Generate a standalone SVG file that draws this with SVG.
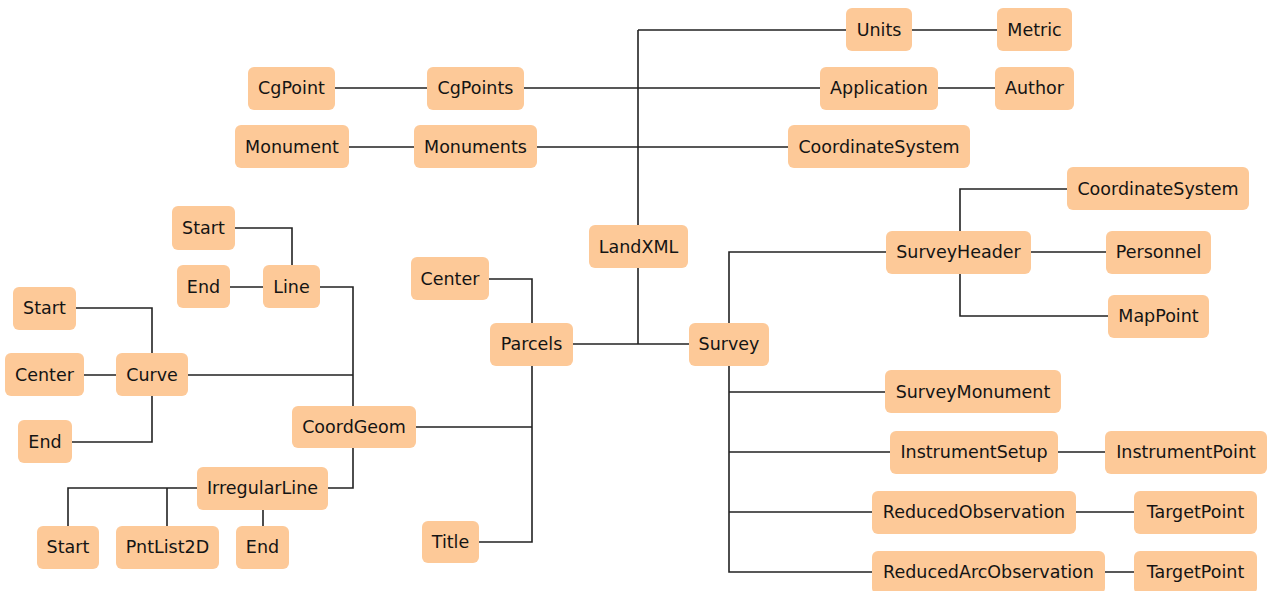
<svg xmlns="http://www.w3.org/2000/svg" width="1271" height="591" viewBox="0 0 1271 591">
<style>
.n rect{fill:#FDC998;}
.n text{font-family:"DejaVu Sans",sans-serif;font-size:17.5px;fill:#141414;text-anchor:middle;dominant-baseline:central;}
#edges path{fill:none;stroke:#222;stroke-width:1.6;}
</style>
<rect width="1271" height="591" fill="#fff"/>
<g id="edges">
<path d="M638 30V344M638 30H846M912 30H997"/>
<path d="M524 88H820M938 88H995M335 88H427"/>
<path d="M537 147H788M349 147H414"/>
<path d="M573 344H689"/>
<path d="M729 323V252H886M729 366V572H872M729 392H885M729 452H890M729 512H872"/>
<path d="M960 231V189H1067M1031 252H1106M960 274V316H1108"/>
<path d="M1058 452H1105M1076 512H1134M1105 572H1134"/>
<path d="M489 279H532V323M532 366V542H479M416 427H532"/>
<path d="M320 287H353V406M188 375H353M353 448V488H328"/>
<path d="M230 287H263M235 228H292V265"/>
<path d="M76 308H152V353M84 375H116M152 396V442H72"/>
<path d="M197 488H68V526M167 488V526M263 510V526"/>
</g>
<g id="n-units" class="n"><rect x="846" y="8" width="66" height="43" rx="6"/><text x="879" y="30">Units</text></g>
<g id="n-metric" class="n"><rect x="997" y="8" width="75" height="43" rx="6"/><text x="1034.5" y="30">Metric</text></g>
<g id="n-cgpoint" class="n"><rect x="248" y="67" width="87" height="43" rx="6"/><text x="291.5" y="88">CgPoint</text></g>
<g id="n-cgpoints" class="n"><rect x="427" y="67" width="97" height="43" rx="6"/><text x="475.5" y="88">CgPoints</text></g>
<g id="n-application" class="n"><rect x="820" y="67" width="118" height="43" rx="6"/><text x="879" y="88">Application</text></g>
<g id="n-author" class="n"><rect x="995" y="67" width="79" height="43" rx="6"/><text x="1034.5" y="88">Author</text></g>
<g id="n-monument" class="n"><rect x="235" y="125" width="114" height="43" rx="6"/><text x="292" y="147">Monument</text></g>
<g id="n-monuments" class="n"><rect x="414" y="125" width="123" height="43" rx="6"/><text x="475.5" y="147">Monuments</text></g>
<g id="n-coordsys1" class="n"><rect x="788" y="125" width="182" height="43" rx="6"/><text x="879" y="147">CoordinateSystem</text></g>
<g id="n-coordsys2" class="n"><rect x="1067" y="167" width="182" height="43" rx="6"/><text x="1158" y="189">CoordinateSystem</text></g>
<g id="n-start-line" class="n"><rect x="172" y="206" width="63" height="44" rx="6"/><text x="203.5" y="228">Start</text></g>
<g id="n-landxml" class="n"><rect x="589" y="225" width="99" height="43" rx="6"/><text x="638.5" y="247">LandXML</text></g>
<g id="n-surveyheader" class="n"><rect x="886" y="231" width="145" height="43" rx="6"/><text x="958.5" y="252">SurveyHeader</text></g>
<g id="n-personnel" class="n"><rect x="1106" y="231" width="105" height="43" rx="6"/><text x="1158.5" y="252">Personnel</text></g>
<g id="n-center-parcels" class="n"><rect x="411" y="257" width="78" height="43" rx="6"/><text x="450" y="279">Center</text></g>
<g id="n-end-line" class="n"><rect x="177" y="265" width="53" height="43" rx="6"/><text x="203.5" y="287">End</text></g>
<g id="n-line" class="n"><rect x="263" y="265" width="57" height="43" rx="6"/><text x="291.5" y="287">Line</text></g>
<g id="n-start-curve" class="n"><rect x="13" y="287" width="63" height="43" rx="6"/><text x="44.5" y="308">Start</text></g>
<g id="n-mappoint" class="n"><rect x="1108" y="295" width="101" height="43" rx="6"/><text x="1158.5" y="316">MapPoint</text></g>
<g id="n-parcels" class="n"><rect x="490" y="323" width="83" height="43" rx="6"/><text x="531.5" y="344">Parcels</text></g>
<g id="n-survey" class="n"><rect x="689" y="323" width="80" height="43" rx="6"/><text x="729" y="344">Survey</text></g>
<g id="n-center-curve" class="n"><rect x="5" y="353" width="79" height="43" rx="6"/><text x="44.5" y="375">Center</text></g>
<g id="n-curve" class="n"><rect x="116" y="353" width="72" height="43" rx="6"/><text x="152" y="375">Curve</text></g>
<g id="n-surveymonument" class="n"><rect x="885" y="370" width="176" height="43" rx="6"/><text x="973" y="392">SurveyMonument</text></g>
<g id="n-coordgeom" class="n"><rect x="292" y="406" width="124" height="42" rx="6"/><text x="354" y="427">CoordGeom</text></g>
<g id="n-end-curve" class="n"><rect x="18" y="420" width="54" height="43" rx="6"/><text x="45" y="442">End</text></g>
<g id="n-instrumentsetup" class="n"><rect x="890" y="431" width="168" height="43" rx="6"/><text x="974" y="452">InstrumentSetup</text></g>
<g id="n-instrumentpoint" class="n"><rect x="1105" y="431" width="162" height="43" rx="6"/><text x="1186" y="452">InstrumentPoint</text></g>
<g id="n-irregularline" class="n"><rect x="197" y="467" width="131" height="43" rx="6"/><text x="262.5" y="488">IrregularLine</text></g>
<g id="n-reducedobs" class="n"><rect x="872" y="491" width="204" height="43" rx="6"/><text x="974" y="512">ReducedObservation</text></g>
<g id="n-targetpoint1" class="n"><rect x="1134" y="491" width="123" height="43" rx="6"/><text x="1195.5" y="512">TargetPoint</text></g>
<g id="n-title" class="n"><rect x="422" y="521" width="57" height="42" rx="6"/><text x="450.5" y="542">Title</text></g>
<g id="n-start-irr" class="n"><rect x="37" y="526" width="62" height="43" rx="6"/><text x="68" y="547">Start</text></g>
<g id="n-pntlist2d" class="n"><rect x="116" y="526" width="103" height="43" rx="6"/><text x="167.5" y="547">PntList2D</text></g>
<g id="n-end-irr" class="n"><rect x="236" y="526" width="53" height="43" rx="6"/><text x="262.5" y="547">End</text></g>
<g id="n-reducedarcobs" class="n"><rect x="872" y="551" width="233" height="43" rx="6"/><text x="988.5" y="572">ReducedArcObservation</text></g>
<g id="n-targetpoint2" class="n"><rect x="1134" y="551" width="123" height="43" rx="6"/><text x="1195.5" y="572">TargetPoint</text></g>
</svg>
